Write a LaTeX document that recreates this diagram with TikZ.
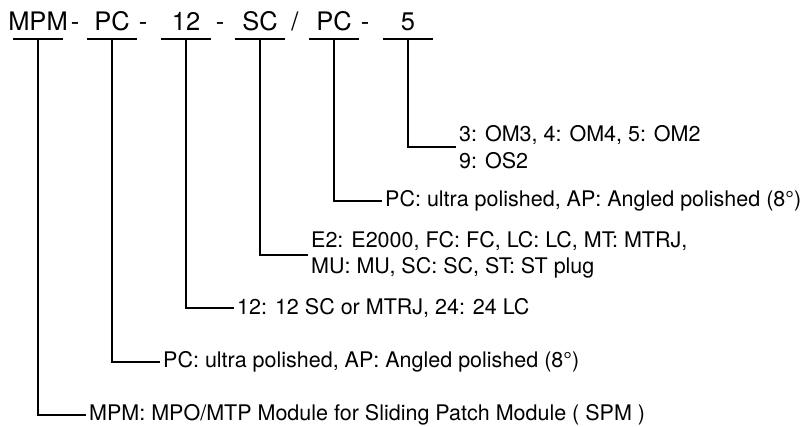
\documentclass[tikz,border=0pt]{standalone}
\usepackage{fontspec}
\setmainfont{TeX Gyre Heros}
\tikzset{
  code/.style={anchor=base, inner sep=0pt, font=\fontsize{25.5}{30}\selectfont},
  desc/.style={anchor=west, inner xsep=3pt, inner ysep=0pt, align=left,
    font=\fontsize{21.5}{26.5}\selectfont},
  leg/.style={line width=2pt},
}
\begin{document}
\begin{tikzpicture}[x=1pt,y=-1pt]
\useasboundingbox (0,0) rectangle (803,427);
% order code
\node[code] (mpm) at (38,31) {MPM};
\node[code] (s1) at (75,31) {-};
\node[code] (pca) at (112,31) {PC};
\node[code] (s2) at (143,31) {-};
\node[code] (num) at (186,31) {12};
\node[code] (s3) at (220,31) {-};
\node[code] (plug) at (260,31) {SC};
\node[code] (s4) at (295,31) {/};
\node[code] (pcb) at (334,31) {PC};
\node[code] (s5) at (365,31) {-};
\node[code] (fib) at (408,31) {5};
\coordinate (u1) at (38,39.5);
\coordinate (u2) at (112,39.5);
\coordinate (u3) at (186,39.5);
\coordinate (u4) at (260,39.5);
\coordinate (u5) at (334,39.5);
\coordinate (u6) at (408,39.5);
% meanings
\node[desc] (dfib) at (456,147) {3: OM3, 4: OM4, 5: OM2\\9: OS2};
\node[desc] (dpcb) at (382,201) {PC: ultra polished, AP: Angled polished (8°)};
\node[desc] (dplug) at (308,255) {E2: E2000, FC: FC, LC: LC, MT: MTRJ,\\MU: MU, SC: SC, ST: ST plug};
\node[desc] (dnum) at (234,308) {12: 12 SC or MTRJ, 24: 24 LC};
\node[desc] (dpca) at (160,362) {PC: ultra polished, AP: Angled polished (8°)};
\node[desc] (dmpm) at (86,415) {MPM: MPO/MTP Module for Sliding Patch Module ( SPM )};
% underlines and legs
\draw[leg] ([xshift=-25pt]u1) -- ([xshift=25pt]u1);
\draw[leg] ([xshift=-25pt]u2) -- ([xshift=25pt]u2);
\draw[leg] ([xshift=-25pt]u3) -- ([xshift=25pt]u3);
\draw[leg] ([xshift=-25pt]u4) -- ([xshift=25pt]u4);
\draw[leg] ([xshift=-25pt]u5) -- ([xshift=25pt]u5);
\draw[leg] ([xshift=-25pt]u6) -- ([xshift=25pt]u6);
\draw[leg] (u1) |- (dmpm.west);
\draw[leg] (u2) |- (dpca.west);
\draw[leg] (u3) |- (dnum.west);
\draw[leg] (u4) |- (dplug.west);
\draw[leg] (u5) |- (dpcb.west);
\draw[leg] (u6) |- (dfib.west);
\end{tikzpicture}
\end{document}
